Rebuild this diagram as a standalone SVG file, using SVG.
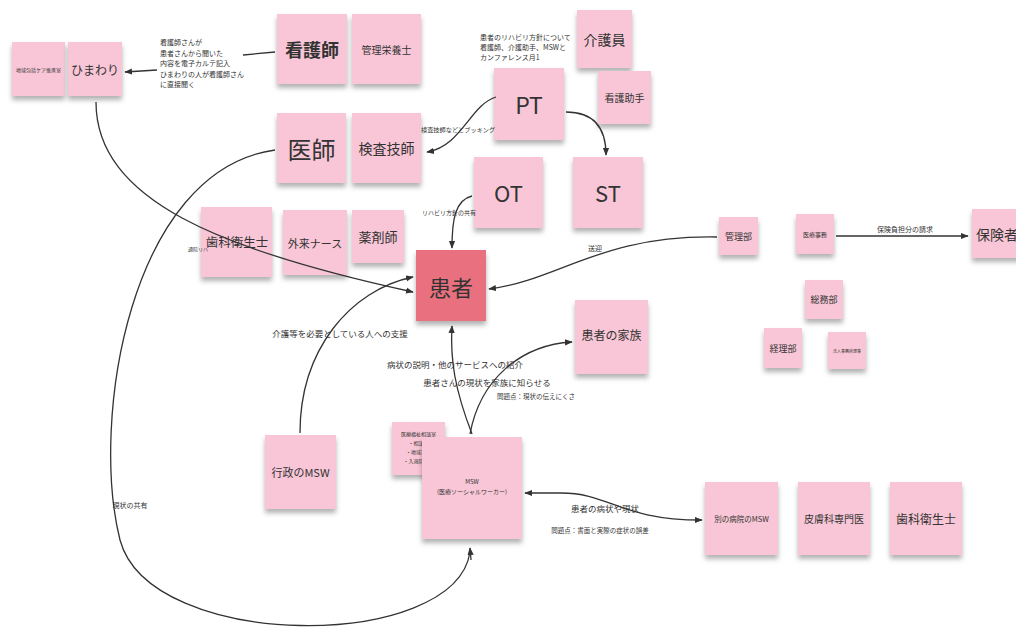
<svg xmlns="http://www.w3.org/2000/svg" width="1016" height="639" viewBox="0 0 1016 639">
<style>
.n{fill:#f8c6d6;filter:url(#sh)}
.p{fill:#e9707f;filter:url(#sh)}
text{font-family:"Noto Sans CJK JP","Noto Sans",sans-serif;fill:#333;text-anchor:middle;dominant-baseline:central}
.s{text-anchor:start}
.l{font-size:7px}
.m{font-size:8.5px}
.c{fill:none;stroke:#333;stroke-width:1.3}
.a{marker-end:url(#ar)}
</style>
<defs>
<filter id="sh" x="-20%" y="-20%" width="140%" height="150%">
<feDropShadow dx="0" dy="4" stdDeviation="2.5" flood-color="#000" flood-opacity="0.3"/>
</filter>
<marker id="ar" viewBox="0 0 10 10" refX="9" refY="5" markerWidth="6" markerHeight="6" orient="auto">
<path d="M0,1 L10,5 L0,9 z" fill="#333"/>
</marker>
</defs>
<rect width="1016" height="639" fill="#fff"/>

<g id="n-chiiki"><rect class="n" x="12" y="42" width="53" height="54"/><text x="38.5" y="69" style="font-size:5px">地域包括ケア推進室</text></g>
<g id="n-himawari"><rect class="n" x="68" y="42" width="54" height="54"/><text x="95" y="69" style="font-size:12px">ひまわり</text></g>
<g id="n-kangoshi"><rect class="n" x="277" y="14" width="70" height="70"/><text x="312" y="49" style="font-size:18px;font-weight:bold">看護師</text></g>
<g id="n-eiyoushi"><rect class="n" x="352" y="14" width="69" height="70"/><text x="386.5" y="49" style="font-size:10px">管理栄養士</text></g>
<g id="n-ishi"><rect class="n" x="277" y="113" width="69" height="70"/><text x="311.5" y="148" style="font-size:24px">医師</text></g>
<g id="n-kensa"><rect class="n" x="352" y="113" width="69" height="70"/><text x="386.5" y="148" style="font-size:14px">検査技師</text></g>
<g id="n-pt"><rect class="n" x="494" y="68" width="70" height="72"/><text x="529" y="104" style="font-size:23px">PT</text></g>
<g id="n-kaigoin"><rect class="n" x="577" y="10" width="55" height="58"/><text x="604.5" y="39" style="font-size:14px">介護員</text></g>
<g id="n-kangojoshu"><rect class="n" x="598" y="71" width="53" height="53"/><text x="624.5" y="97.5" style="font-size:10px">看護助手</text></g>
<g id="n-ot"><rect class="n" x="474" y="157" width="69" height="71"/><text x="508.5" y="192" style="font-size:22px">OT</text></g>
<g id="n-st"><rect class="n" x="573" y="157" width="70" height="71"/><text x="608" y="192" style="font-size:22px">ST</text></g>
<g id="n-shika1"><rect class="n" x="201" y="207" width="71" height="70"/><text x="237" y="241" style="font-size:12.5px">歯科衛生士</text></g>
<g id="n-gairai"><rect class="n" x="283" y="210" width="64" height="65"/><text x="315" y="242.5" style="font-size:11px">外来ナース</text></g>
<g id="n-yakuzai"><rect class="n" x="352" y="210" width="52" height="53"/><text x="378" y="236.5" style="font-size:13px">薬剤師</text></g>
<g id="n-kanja"><rect class="p" x="416" y="250" width="70" height="71"/><text x="451" y="285.5" style="font-size:22px">患者</text></g>
<g id="n-kanribu"><rect class="n" x="719" y="217" width="39" height="38"/><text x="738.5" y="236" style="font-size:9px">管理部</text></g>
<g id="n-iryoujimu"><rect class="n" x="796" y="214" width="38" height="40"/><text x="815" y="234" style="font-size:6px">医療事務</text></g>
<g id="n-hokensha"><rect class="n" x="972" y="209" width="50" height="49"/><text class="s" x="976" y="233.5" style="font-size:14px">保険者</text></g>
<g id="n-soumu"><rect class="n" x="805" y="280" width="38" height="39"/><text x="824" y="299.5" style="font-size:9px">総務部</text></g>
<g id="n-keiri"><rect class="n" x="764" y="328" width="38" height="40"/><text x="783" y="348" style="font-size:9px">経理部</text></g>
<g id="n-houjin"><rect class="n" x="828" y="332" width="38" height="37"/><text x="847" y="350.5" style="font-size:4px">法人事務所理事</text></g>
<g id="n-kazoku"><rect class="n" x="575" y="300" width="73" height="74"/><text x="611.5" y="334" style="font-size:12px">患者の家族</text></g>
<g id="n-gyousei"><rect class="n" x="265" y="435" width="71" height="74"/><text x="300.5" y="472" style="font-size:11px">行政のMSW</text></g>
<g id="n-soudan"><rect class="n" x="392" y="422" width="53" height="53"/>
<text x="418.5" y="433" style="font-size:5px">医療福祉相談室</text>
<text x="418.5" y="442" style="font-size:5px">・相談室</text>
<text x="418.5" y="451" style="font-size:5px">・地域連携</text>
<text x="418.5" y="460" style="font-size:5px">・入退院管理</text></g>
<g id="n-msw"><rect class="n" x="422" y="437" width="100" height="102"/>
<text x="472" y="481" style="font-size:6px">MSW</text>
<text x="472" y="491" style="font-size:6px">(医療ソーシャルワーカー)</text></g>
<g id="n-betsu"><rect class="n" x="705" y="482" width="73" height="73"/><text x="741.5" y="518.5" style="font-size:7.5px">別の病院のMSW</text></g>
<g id="n-hifu"><rect class="n" x="798" y="482" width="72" height="73"/><text x="834" y="518.5" style="font-size:10px">皮膚科専門医</text></g>
<g id="n-shika2"><rect class="n" x="890" y="482" width="72" height="73"/><text x="926" y="518.5" style="font-size:12px">歯科衛生士</text></g>

<g id="connectors">
<path class="c" d="M275,52 L243,55"/>
<path class="c a" d="M157,70 L125,72"/>
<path class="c a" d="M496,97 C470,105 462,146 427,152"/>
<path class="c a" d="M566,112 C596,112 606,130 606,155"/>
<path class="c a" d="M472,196 C455,200 452,220 452,248"/>
<path class="c a" d="M96,102 C96,200 220,250 413,292"/>
<path class="c" d="M275,150 C130,170 90,420 120,540 C150,652 455,652 470,552"/>
<path class="c a" d="M471,560 L470,548"/>
<path class="c a" d="M300,433 C300,350 350,290 413,277"/>
<path class="c a" d="M472,434 C455,390 450,360 452,326"/>
<path class="c a" d="M470,434 C480,380 520,345 572,342"/>
<path class="c a" d="M717,237 C600,235 560,280 489,289"/>
<path class="c a" d="M836,236 L968,236"/>
<path class="c a" d="M561,493 L525,493"/>
<path class="c a" d="M561,493 C610,493 620,520 702,520"/>
</g>

<g id="labels">
<text class="l s" x="160" y="42">看護師さんが</text>
<text class="l s" x="160" y="53">患者さんから聞いた</text>
<text class="l s" x="160" y="63">内容を電子カルテ記入</text>
<text class="l s" x="160" y="74">ひまわりの人が看護師さん</text>
<text class="l s" x="160" y="84">に直接聞く</text>
<text class="l s" x="480" y="37">患者のリハビリ方針について</text>
<text class="l s" x="480" y="47">看護師、介護助手、MSWと</text>
<text class="l s" x="480" y="57">カンファレンス月1</text>
<text class="s" x="421" y="129" style="font-size:6.2px">検査技師などとブッキング</text>
<text class="s" x="422" y="212" style="font-size:6px">リハビリ方針の共有</text>
<text class="s" x="188" y="248" style="font-size:5px">通院リハ</text>
<text class="l" x="595" y="248">送迎</text>
<text class="l" x="905" y="229">保険負担分の請求</text>
<text class="m" x="340" y="333">介護等を必要としている人への支援</text>
<text class="m" x="455" y="364">病状の説明・他のサービスへの紹介</text>
<text class="m" x="487" y="382">患者さんの現状を家族に知らせる</text>
<text class="l" x="536" y="396" style="font-size:6.5px">問題点：現状の伝えにくさ</text>
<text class="l" x="130" y="505">現状の共有</text>
<text class="m" x="605" y="508">患者の病状や現状</text>
<text class="l" x="600" y="530" style="font-size:6.5px">問題点：書面と実際の症状の誤差</text>
</g>
</svg>
